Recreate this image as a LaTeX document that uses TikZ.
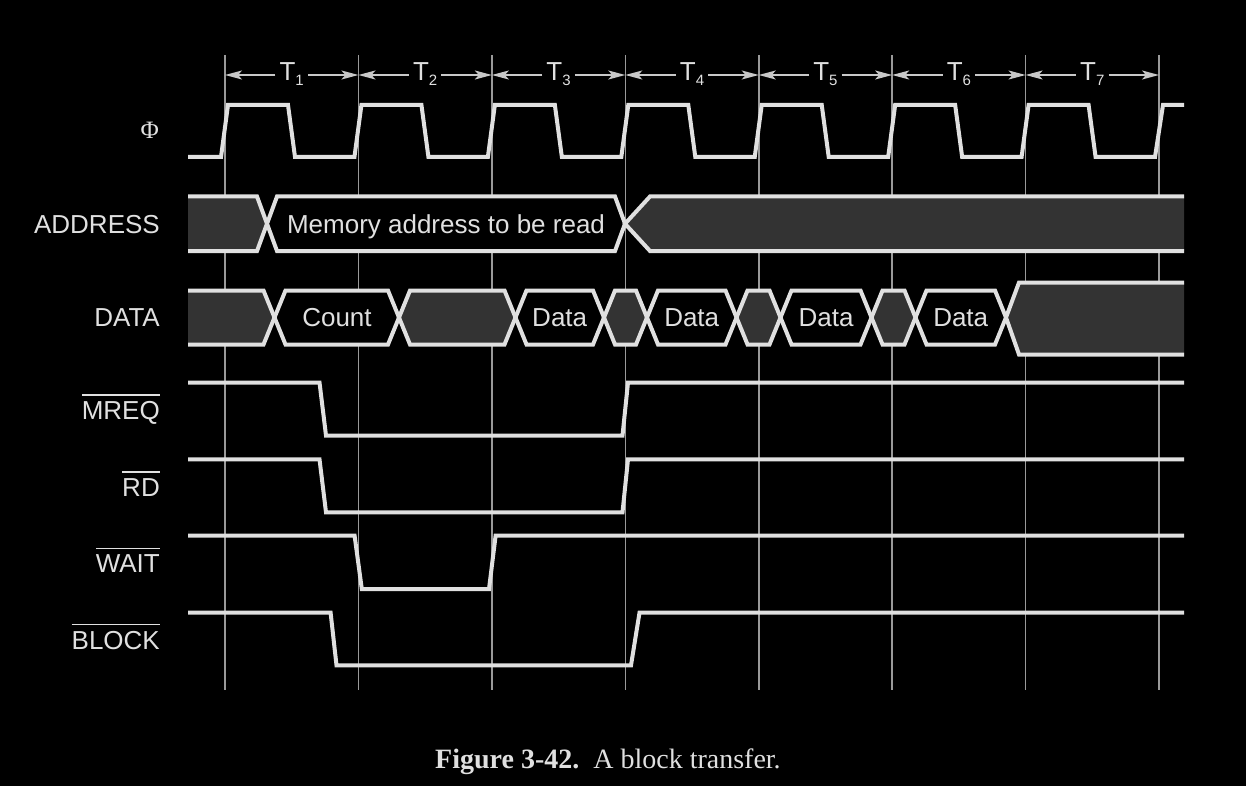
\documentclass[tikz,border=0pt]{standalone}
\usepackage{fontspec}
\setmainfont{Liberation Sans}
\newfontfamily\seriffont{Liberation Serif}
\usetikzlibrary{arrows.meta}
\definecolor{fg}{HTML}{E0E0E0}
\definecolor{busfill}{HTML}{333333}
\definecolor{gridc}{HTML}{9A9A9A}
\definecolor{arrc}{HTML}{C8C8C8}
\newsavebox\ovlbox
\newcommand{\ovl}[1]{\sbox\ovlbox{#1}\vbox{\hrule height 1.6pt width \wd\ovlbox\kern 5.5pt\copy\ovlbox}}
\newcommand{\Tsub}[1]{T\raisebox{-4.5pt}{\fontsize{15}{15}\selectfont #1}}
\newcommand{\dcell}[3]{\path[buspath, fill=#3] (#1,317.5) -- ({#1+11},290.5) -- ({#2-11},290.5) -- (#2,317.5) -- ({#2-11},344.5) -- ({#1+11},344.5) -- cycle;}
\begin{document}
\begin{tikzpicture}[x=1pt,y=-1pt,
  gridline/.style={draw=gridc, line width=1.6pt},
  sig/.style={draw=fg, line width=4pt, line join=miter},
  buspath/.style={draw=fg, line width=4pt, line join=miter},
  tarr/.style={draw=arrc, line width=1.6pt, -{Stealth[length=17pt,width=9pt,inset=4pt]}},
  tlab/.style={text=fg, anchor=base, inner xsep=4pt, inner ysep=0pt, font=\fontsize{26}{30}\selectfont},
  lbl/.style={text=fg, anchor=base east, inner sep=0pt, font=\fontsize{26}{30}\selectfont},
  celltxt/.style={text=fg, anchor=base, inner sep=0pt, font=\fontsize{26}{30}\selectfont}]
\fill[black] (0,0) rectangle (1246,786);
\useasboundingbox (0,0) rectangle (1246,786);

% grid lines
\foreach \k in {0,...,7} {
  \coordinate (g\k) at ({225+133.43*\k},75);
  \draw[gridline] ({225+133.43*\k},55) -- ({225+133.43*\k},690);
}

% cycle labels
\foreach \k [evaluate=\k as \j using int(\k+1)] in {0,...,6} {
  \node[tlab] (t\j) at ({225+133.43*\k+66.7},81) {\Tsub{\j}};
  \draw[tarr] (t\j.west |- g\k) -- (g\k);
  \draw[tarr] (t\j.east |- g\j) -- (g\j);
}

% clock
\draw[sig] (188,157) foreach \k in {0,...,6} {
  -- ({221+133.43*\k},157) -- ({228+133.43*\k},105)
  -- ({288+133.43*\k},105) -- ({295+133.43*\k},157) }
  -- (1155,157) -- (1163,105) -- (1184,105);

% address bus
\path[buspath, fill=busfill] (188,196.5) -- (257,196.5) -- (267,223.75) -- (257,251) -- (188,251);
\path[buspath, fill=black] (267,223.75) -- (277,196.5) -- (615,196.5) -- (625,223.75) -- (615,251) -- (277,251) -- cycle;
\path[buspath, fill=busfill] (1184,196.5) -- (650,196.5) -- (625,223.75) -- (650,251) -- (1184,251);
\node[celltxt] (addrtxt) at (446,233.3) {Memory address to be read};

% data bus
\path[buspath, fill=busfill] (188,290.5) -- (263.5,290.5) -- (274.5,317.5) -- (263.5,344.5) -- (188,344.5);
\dcell{274.5}{399}{black}
\dcell{399}{515.5}{busfill}
\dcell{515.5}{604}{black}
\dcell{604}{647}{busfill}
\dcell{647}{736.5}{black}
\dcell{736.5}{780.5}{busfill}
\dcell{780.5}{871.5}{black}
\dcell{871.5}{915.5}{busfill}
\dcell{915.5}{1006}{black}
\path[buspath, fill=busfill] (1184,282.5) -- (1019,282.5) -- (1006,317.5) -- (1019,354.5) -- (1184,354.5);
\node[celltxt] (count) at (337,326.7) {Count};
\node[celltxt] (d1) at (559.7,326.7) {Data};
\node[celltxt] (d2) at (691.7,326.7) {Data};
\node[celltxt] (d3) at (826,326.7) {Data};
\node[celltxt] (d4) at (960.7,326.7) {Data};

% control signals
\draw[sig] (188,382.5) -- (319.5,382.5) -- (326,435.5) -- (622.5,435.5) -- (628,382.5) -- (1184,382.5);
\draw[sig] (188,459.3) -- (319.5,459.3) -- (326,512.3) -- (622.5,512.3) -- (628,459.3) -- (1184,459.3);
\draw[sig] (188,535.7) -- (354.6,535.7) -- (361.8,589) -- (489,589) -- (495.6,535.7) -- (1184,535.7);
\draw[sig] (188,612.7) -- (330.6,612.7) -- (336.5,665.3) -- (631,665.3) -- (639.5,612.7) -- (1184,612.7);

% signal labels
\node[lbl, font=\seriffont\fontsize{25}{30}\selectfont] (phi) at (159,139) {Φ};
\node[lbl] (address) at (160,233.3) {ADDRESS};
\node[lbl] (data) at (160,326.7) {DATA};
\node[lbl] (mreq) at (160,419.3) {\ovl{MREQ}};
\node[lbl] (rd) at (160,496) {\ovl{RD}};
\node[lbl] (wait) at (160,572.7) {\ovl{WAIT}};
\node[lbl] (block) at (160,649) {\ovl{BLOCK}};

% caption
\node[anchor=base west, inner sep=0pt, text=fg, font=\seriffont\fontsize{28}{32}\selectfont] (caption) at (435,768) {\textbf{Figure 3-42.}\ \ A block transfer.};
\end{tikzpicture}
\end{document}
